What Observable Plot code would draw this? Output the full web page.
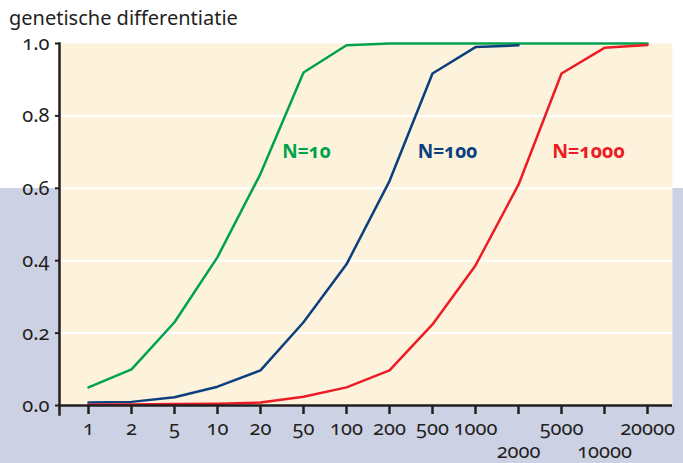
<!DOCTYPE html>
<html>
<head>
<meta charset="utf-8">
<script src="https://cdn.jsdelivr.net/npm/d3@7"></script>
<script src="https://cdn.jsdelivr.net/npm/@observablehq/plot@0.6"></script>
<style>
  html, body { margin: 0; padding: 0; }
  #wrap {
    width: 683px; height: 463px; overflow: hidden;
    background: linear-gradient(to bottom, #ffffff 0px, #ffffff 188px, #cdd1e4 188px, #cdd1e4 100%);
    font-family: "Noto Sans", Lato, sans-serif;
    font-variant-numeric: oldstyle-nums;
    font-feature-settings: "onum";
  }
  #title {
    box-sizing: border-box; height: 35px; padding: 8px 0 0 9px;
    font-size: 20px; line-height: 1; color: #231f20;
  }
  #chart svg { overflow: visible; }
</style>
</head>
<body>
<div id="wrap">
  <div id="title">genetische differentiatie</div>
  <div id="chart"></div>
</div>
<script>
const sizes = ["1","2","5","10","20","50","100","200","500","1000","2000","5000","10000","20000"];
const secondRow = ["2000","10000"];
const yTicks = [0, 0.2, 0.4, 0.6, 0.8, 1.0];
const gridTicks = [0.2, 0.4, 0.6, 0.8];
const n10 = [0.05, 0.10, 0.23, 0.41, 0.64, 0.92, 0.995, 1.0, 1.0, 1.0, 1.0, 1.0, 1.0, 1.0];
const n100 = [0.008, 0.01, 0.023, 0.052, 0.097, 0.23, 0.39, 0.62, 0.917, 0.99, 0.995];
const n1000 = [0.002, 0.003, 0.004, 0.005, 0.008, 0.024, 0.05, 0.097, 0.224, 0.387, 0.61, 0.917, 0.988, 0.996];
const seriesNames = ["N=10", "N=100", "N=1000"];
const colors = ["#00a24e", "#0b3f7e", "#ed1c24"];

const toRows = (vals, name) => vals.map((v, i) => ({size: sizes[i], value: v, series: name}));
const rows = [
  ...toRows(n10, seriesNames[0]),
  ...toRows(n100, seriesNames[1]),
  ...toRows(n1000, seriesNames[2])
];
const ink = "#231f20";
const fontStack = "'Noto Sans', Lato, sans-serif";
const fv = "oldstyle-nums";

const chart = Plot.plot({
  width: 683,
  height: 428,
  marginTop: 8,
  marginBottom: 58,
  marginLeft: 59,
  marginRight: 11,
  style: `background: transparent; overflow: visible; font-family: ${fontStack}; font-size: 20px; color: ${ink}; font-variant-numeric: oldstyle-nums; font-feature-settings: 'onum';`,
  x: {type: "point", domain: sizes, range: [83, 652], padding: 0},
  y: {domain: [0, 1]},
  color: {domain: seriesNames, range: colors},
  marks: [
    Plot.frame({fill: "#fdf3dc", stroke: null}),
    Plot.ruleY(gridTicks, {stroke: "white", strokeWidth: 2}),
    Plot.line(rows, {x: "size", y: "value", z: "series", stroke: "series", strokeWidth: 2.5}),
    Plot.ruleY([0], {stroke: ink, strokeWidth: 2.5}),
    Plot.frame({anchor: "left", stroke: ink, strokeWidth: 2.5, insetBottom: -9}),
    Plot.axisY(yTicks, {tickSize: 4, tickPadding: 6, tickFormat: d3.format(".1f"), strokeWidth: 2, stroke: ink, fill: ink, label: null, fontSize: 20, fontVariant: fv}),
    Plot.axisX(sizes, {tickSize: 9, tickPadding: 6, strokeWidth: 2.5, stroke: ink, fill: ink, label: null, fontSize: 20, fontVariant: fv,
      tickFormat: d => secondRow.includes(d) ? "" : d}),
    Plot.axisX(secondRow, {tickSize: 0, tickPadding: 13, fill: ink, label: null, fontSize: 20, fontVariant: fv, dy: 25}),
    Plot.text([seriesNames[0]], {x: () => "50", y: () => 0.70, text: d => d, fill: colors[0], fontWeight: "bold", fontSize: 19, fontVariant: fv, dx: 3}),
    Plot.text([seriesNames[1]], {x: () => "500", y: () => 0.70, text: d => d, fill: colors[1], fontWeight: "bold", fontSize: 19, fontVariant: fv, dx: 15}),
    Plot.text([seriesNames[2]], {x: () => "5000", y: () => 0.70, text: d => d, fill: colors[2], fontWeight: "bold", fontSize: 19.5, fontVariant: fv, dx: 27})
  ]
});
document.getElementById("chart").appendChild(chart);
</script>
</body>
</html>
